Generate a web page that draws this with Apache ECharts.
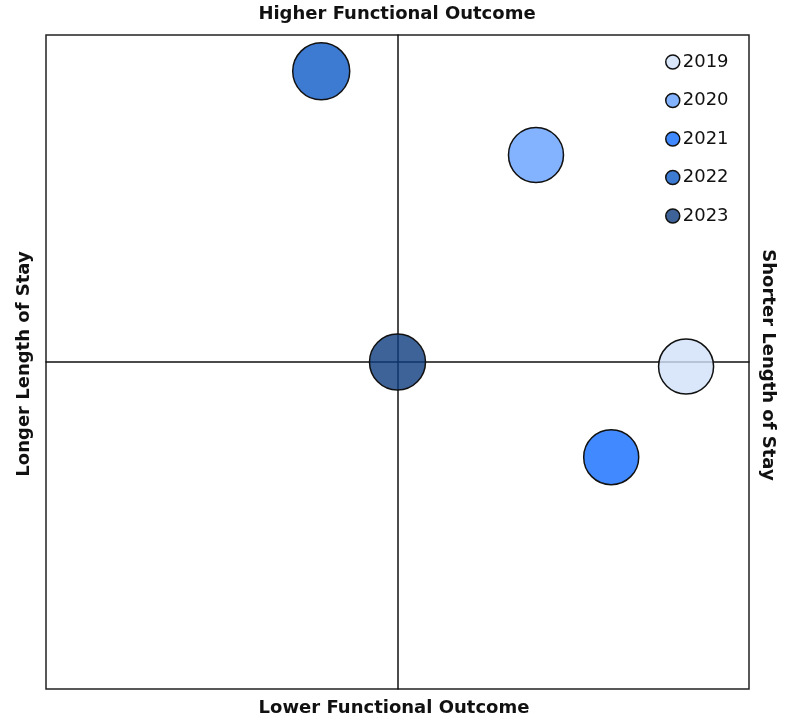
<!DOCTYPE html>
<html>
<head>
<meta charset="utf-8">
<script src="https://cdn.jsdelivr.net/npm/echarts@6/dist/echarts.min.js"></script>
<style>
  html, body { margin: 0; padding: 0; background: #fff; }
  #main { width: 789px; height: 721px; }
</style>
</head>
<body>
<div id="main"></div>
<script>
// data (relative position in the quadrant, -1..1)
var years = ['2019', '2020', '2021', '2022', '2023']
var functional = [-0.014, 0.633, -0.291, 0.889, 0]   // vertical: higher functional outcome
var stay = [0.821, 0.394, 0.608, -0.217, 0]          // horizontal: shorter length of stay
var bubbleSize = [55, 55, 55, 57, 56]

var colors = [
  'rgba(209,225,250,0.8)',
  'rgba(100,160,255,0.8)',
  'rgba(17,107,255,0.8)',
  'rgba(12,89,199,0.8)',
  'rgba(14,60,128,0.8)'
]

var font = '"DejaVu Sans", sans-serif'

var series = years.map(function (y, i) {
  return {
    name: y,
    type: 'scatter',
    data: [[stay[i], functional[i], bubbleSize[i]]],
    symbolSize: function (d) { return d[2] },
    itemStyle: {
      color: colors[i],
      opacity: 1,
      borderColor: '#111',
      borderWidth: 1.5
    },
    emphasis: { disabled: true }
  }
})

var myChart = echarts.init(document.getElementById('main'))
var option = {
  backgroundColor: '#fff',
  animation: false,
  grid: {
    left: 46,
    right: 40,
    top: 35,
    bottom: 32,
    show: true,
    borderColor: '#222',
    borderWidth: 1.5
  },
  legend: {
    orient: 'vertical',
    left: 665,
    top: 53,
    padding: 0,
    itemWidth: 14,
    itemHeight: 14,
    itemGap: 20.5,
    icon: 'circle',
    itemStyle: { borderColor: '#111', borderWidth: 1.5, opacity: 1 },
    textStyle: { fontFamily: font, fontSize: 18, color: '#111', padding: [0, 0, 0, -2] },
    data: years
  },
  xAxis: {
    type: 'value',
    min: -1,
    max: 1,
    axisLine: { onZero: true, lineStyle: { color: '#111', width: 1.5 } },
    axisTick: { show: false },
    axisLabel: { show: false },
    splitLine: { show: false }
  },
  yAxis: {
    type: 'value',
    min: -1,
    max: 1,
    axisLine: { onZero: true, lineStyle: { color: '#111', width: 1.5 } },
    axisTick: { show: false },
    axisLabel: { show: false },
    splitLine: { show: false }
  },
  graphic: [
    {
      type: 'text', x: 397, y: 14,
      style: { text: 'Higher Functional Outcome', font: 'bold 18px ' + font, fill: '#111', align: 'center', verticalAlign: 'middle' }
    },
    {
      type: 'text', x: 394, y: 708,
      style: { text: 'Lower Functional Outcome', font: 'bold 18px ' + font, fill: '#111', align: 'center', verticalAlign: 'middle' }
    },
    {
      type: 'text', x: 24, y: 364, rotation: Math.PI / 2,
      style: { text: 'Longer Length of Stay', font: 'bold 18px ' + font, fill: '#111', align: 'center', verticalAlign: 'middle' }
    },
    {
      type: 'text', x: 768, y: 365, rotation: -Math.PI / 2,
      style: { text: 'Shorter Length of Stay', font: 'bold 18px ' + font, fill: '#111', align: 'center', verticalAlign: 'middle' }
    }
  ],
  series: series
}
myChart.setOption(option)
</script>
</body>
</html>
